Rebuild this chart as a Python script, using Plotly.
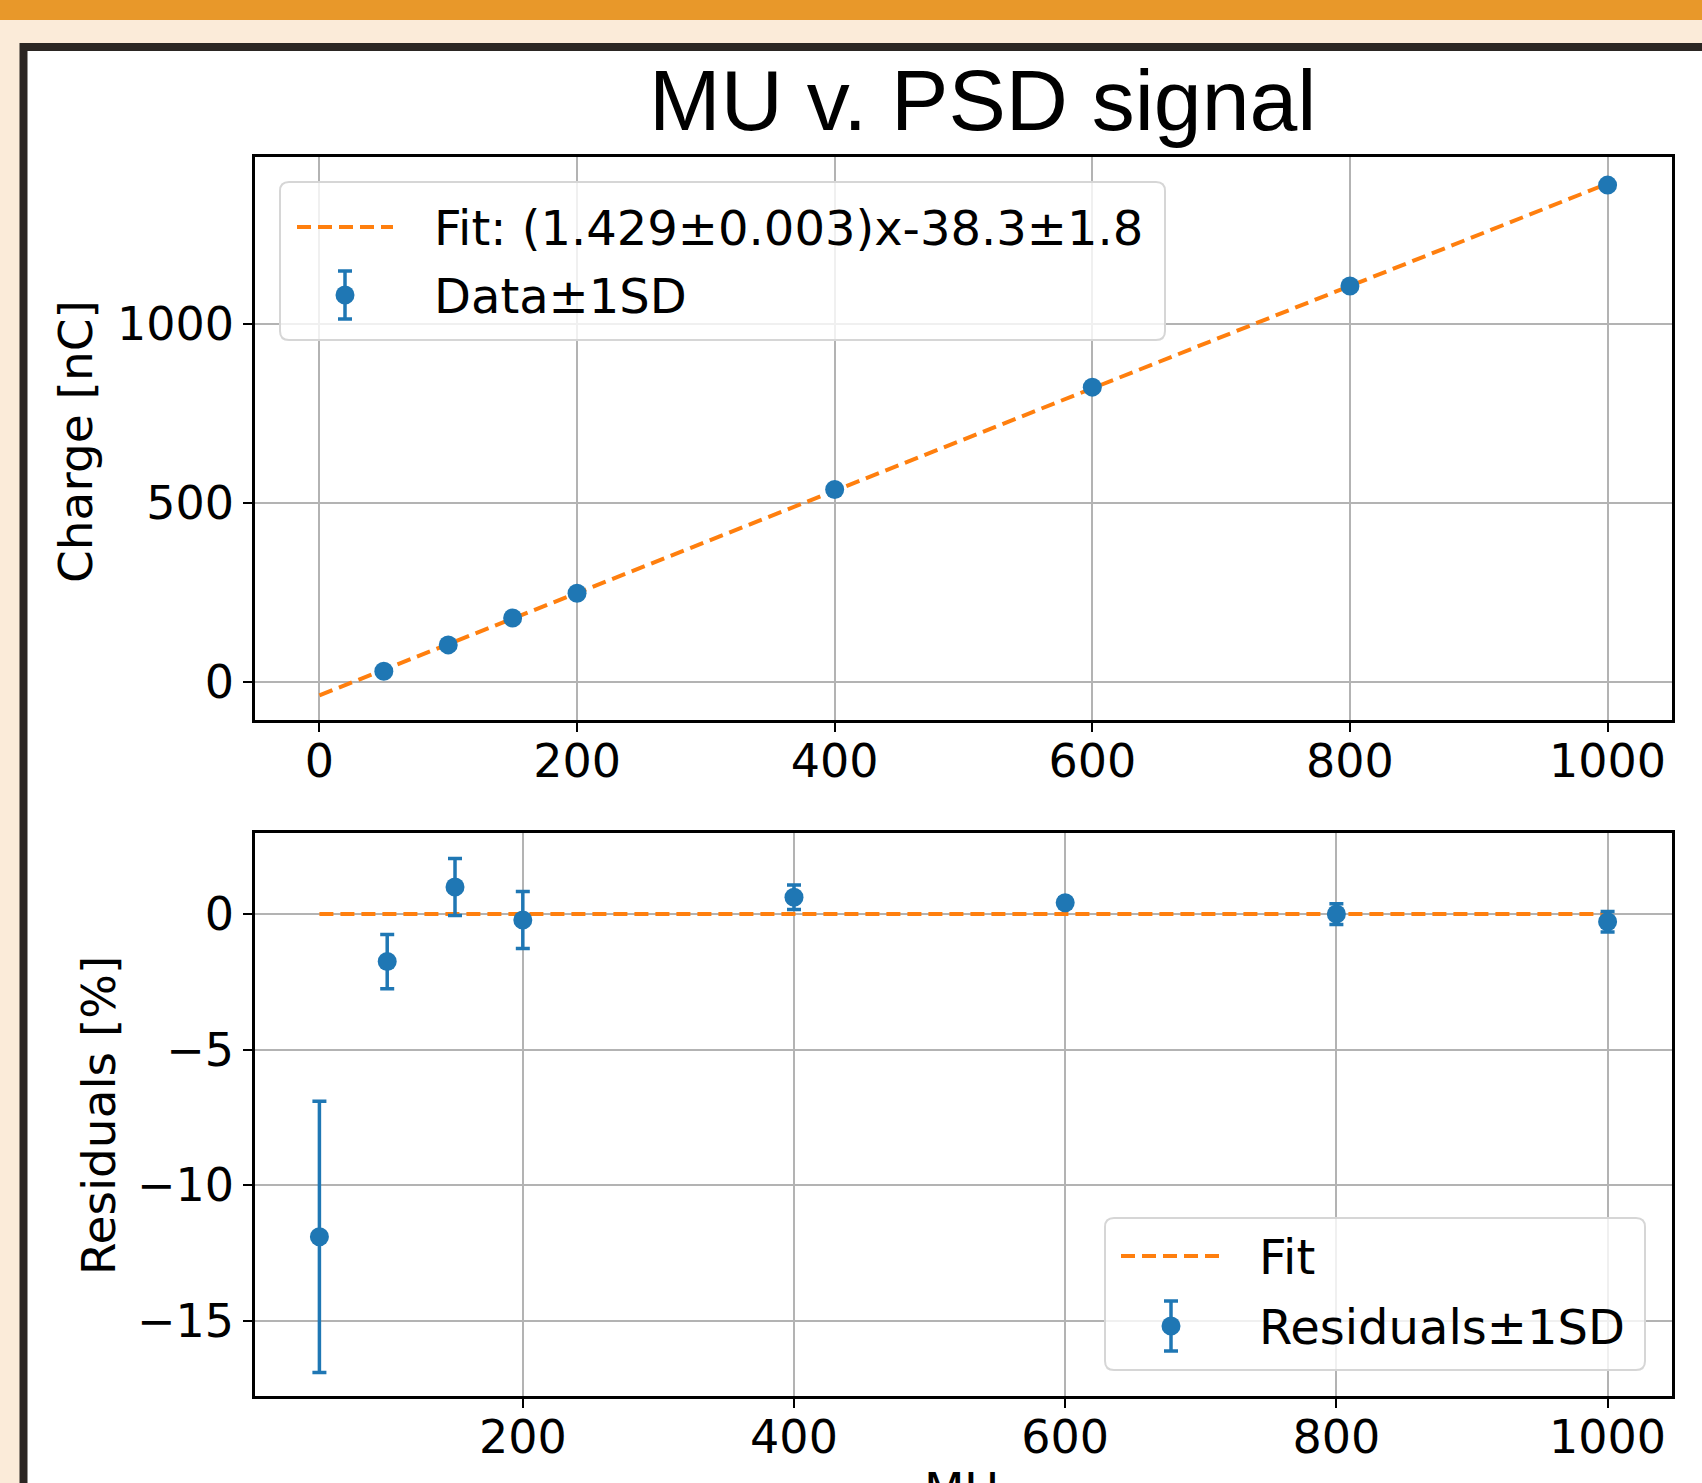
import plotly.graph_objects as go
from plotly.subplots import make_subplots

# ---------------- data ----------------
mu = [50, 100, 150, 200, 400, 600, 800, 1000]
charge = [29.2, 102.7, 177.8, 247.0, 536.5, 822.4, 1104.9, 1386.5]
charge_err = [1.5, 1.0, 1.9, 2.6, 2.4, 1.6, 3.9, 4.9]
residuals = [-11.9, -1.75, 1.0, -0.22, 0.62, 0.42, 0.0, -0.28]
residuals_err = [5.0, 1.0, 1.05, 1.05, 0.45, 0.18, 0.38, 0.38]
fit_slope = 1.429
fit_intercept = -38.3
fit_x = [0, 1000]
fit_label = "Fit: (1.429±0.003)x-38.3±1.8"
data_label = "Data±1SD"
res_fit_label = "Fit"
res_label = "Residuals±1SD"
title_text = "MU v. PSD signal"
top_xticks = [0, 200, 400, 600, 800, 1000]
top_yticks = [0, 500, 1000]
bot_xticks = [200, 400, 600, 800, 1000]
bot_yticks = [-15, -10, -5, 0]

W, H = 1702, 1483
BLUE = "#1f77b4"
ORANGE = "#ff7f0e"
FONT = "DejaVu Sans"


def fx(p):
    return p / W


def fy(p):
    return 1 - p / H


fig = make_subplots(rows=2, cols=1)

fit_y = [fit_slope * x + fit_intercept for x in fit_x]

# top panel
fig.add_trace(go.Scatter(x=fit_x, y=fit_y, mode="lines",
                         line=dict(color=ORANGE, width=4, dash="14px,7px"),
                         showlegend=False), row=1, col=1)
fig.add_trace(go.Scatter(x=mu, y=charge, mode="markers",
                         marker=dict(color=BLUE, size=19),
                         error_y=dict(type="data", array=charge_err, color=BLUE,
                                      thickness=3.5, width=7),
                         showlegend=False), row=1, col=1)
# bottom panel
fig.add_trace(go.Scatter(x=[mu[0], mu[-1]], y=[0, 0], mode="lines",
                         line=dict(color=ORANGE, width=4, dash="14px,7px"),
                         showlegend=False), row=2, col=1)
fig.add_trace(go.Scatter(x=mu, y=residuals, mode="markers",
                         marker=dict(color=BLUE, size=19),
                         error_y=dict(type="data", array=residuals_err, color=BLUE,
                                      thickness=3.5, width=7),
                         showlegend=False), row=2, col=1)

axis_common = dict(showline=True, mirror=True, linecolor="black", linewidth=2.5,
                   ticks="outside", ticklen=9, tickwidth=2, tickcolor="black",
                   showgrid=True, gridcolor="#b3b3b3", gridwidth=1.7,
                   zeroline=False, tickfont=dict(family=FONT, size=46, color="black"))

fig.update_xaxes(domain=[fx(255), fx(1672)], ticklabelstandoff=-10, **axis_common)
fig.update_xaxes(range=[-50, 1050], tickvals=top_xticks, row=1, col=1)
fig.update_xaxes(range=[2.5, 1047.5], tickvals=bot_xticks, row=2, col=1)
fig.update_yaxes(**axis_common)
fig.update_yaxes(range=[-107, 1465], tickvals=top_yticks,
                 domain=[fy(720), fy(157)], row=1, col=1)
fig.update_yaxes(range=[-17.77, 2.99], tickvals=bot_yticks,
                 domain=[fy(1396), fy(833)], row=2, col=1)

shapes = []
# poster background pieces
shapes.append(dict(type="rect", xref="paper", yref="paper", x0=0, x1=1,
                   y0=fy(20), y1=1.01, fillcolor="#E8982A", line=dict(width=0),
                   layer="below"))
shapes.append(dict(type="rect", xref="paper", yref="paper", x0=fx(23.5), x1=1.02,
                   y0=-0.02, y1=fy(47), fillcolor="white",
                   line=dict(color="#2b2623", width=8), layer="below"))


def rounded_box(x0, y0, x1, y1, r=9):
    # pixel coords -> paper path
    path = (f"M {fx(x0 + r)},{fy(y0)} L {fx(x1 - r)},{fy(y0)} "
            f"Q {fx(x1)},{fy(y0)} {fx(x1)},{fy(y0 + r)} "
            f"L {fx(x1)},{fy(y1 - r)} Q {fx(x1)},{fy(y1)} {fx(x1 - r)},{fy(y1)} "
            f"L {fx(x0 + r)},{fy(y1)} Q {fx(x0)},{fy(y1)} {fx(x0)},{fy(y1 - r)} "
            f"L {fx(x0)},{fy(y0 + r)} Q {fx(x0)},{fy(y0)} {fx(x0 + r)},{fy(y0)} Z")
    return dict(type="path", xref="paper", yref="paper", path=path,
                fillcolor="rgba(255,255,255,0.8)",
                line=dict(color="#d6d6d6", width=2), layer="above")


def dash_sample(x0, x1, y):
    return dict(type="line", xref="paper", yref="paper", x0=fx(x0), x1=fx(x1),
                y0=fy(y), y1=fy(y), line=dict(color=ORANGE, width=4, dash="14px,7px"),
                layer="above")


def errbar_glyph(cx, cy, half):
    out = []
    out.append(dict(type="line", xref="paper", yref="paper", x0=fx(cx), x1=fx(cx),
                    y0=fy(cy - half), y1=fy(cy + half), line=dict(color=BLUE, width=3.5),
                    layer="above"))
    for yy in (cy - half, cy + half):
        out.append(dict(type="line", xref="paper", yref="paper", x0=fx(cx - 7),
                        x1=fx(cx + 7), y0=fy(yy), y1=fy(yy),
                        line=dict(color=BLUE, width=3.5), layer="above"))
    out.append(dict(type="circle", xref="paper", yref="paper", x0=fx(cx - 9.5),
                    x1=fx(cx + 9.5), y0=fy(cy - 9.5), y1=fy(cy + 9.5),
                    fillcolor=BLUE, line=dict(width=0), layer="above"))
    return out


# top legend
shapes.append(rounded_box(280, 182, 1165, 340))
shapes.append(dash_sample(297, 393, 227))
shapes += errbar_glyph(345, 295, 24)
# bottom legend
shapes.append(rounded_box(1105, 1218, 1645, 1370))
shapes.append(dash_sample(1121, 1220, 1256))
shapes += errbar_glyph(1171, 1326, 25)

annotations = []


def label(text, x, y, size=48, xanchor="left", angle=0, family=FONT):
    annotations.append(dict(text=text, xref="paper", yref="paper", x=fx(x), y=fy(y),
                            xanchor=xanchor, yanchor="middle", showarrow=False,
                            textangle=angle,
                            font=dict(family=family, size=size, color="black")))


label(fit_label, 432, 228)
label(data_label, 432, 296)
label(res_fit_label, 1257, 1257)
label(res_label, 1257, 1327)
label("Charge [nC]", 76, 442, size=47, xanchor="center", angle=-90)
label("Residuals [%]", 98, 1116, size=47, xanchor="center", angle=-90)
label(title_text, 982, 100, size=86, xanchor="center",
      family="Liberation Sans, Arial, sans-serif")
annotations.append(dict(text="MU", xref="paper", yref="paper", x=fx(962), y=fy(1460),
                        xanchor="center", yanchor="top", showarrow=False,
                        font=dict(family=FONT, size=47, color="black")))

fig.update_layout(width=W, height=H, margin=dict(l=0, r=0, t=0, b=0),
                  paper_bgcolor="#FBEBD9", plot_bgcolor="white",
                  shapes=shapes, annotations=annotations, showlegend=False)

fig.write_html("out.html")
